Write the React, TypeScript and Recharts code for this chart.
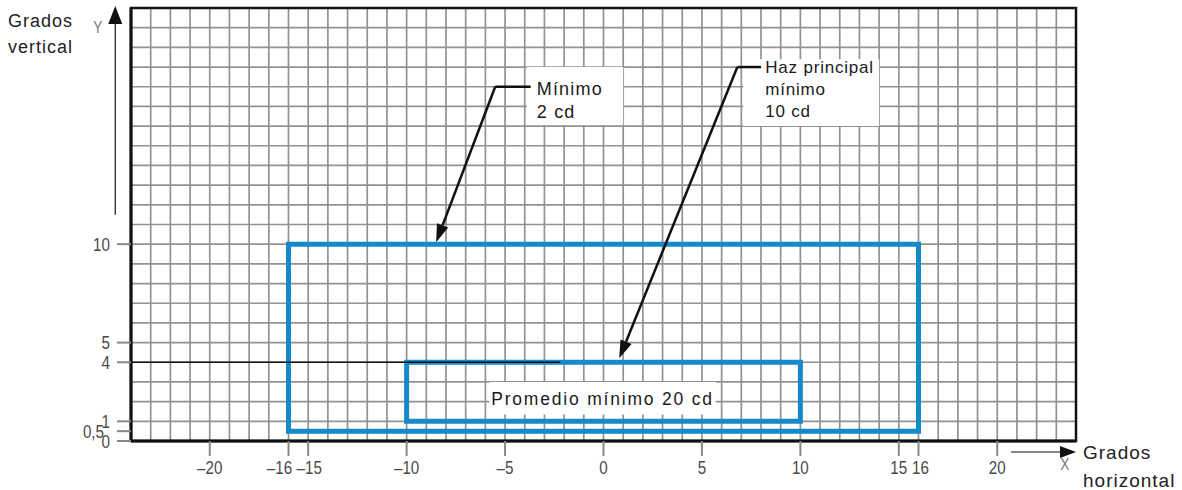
import {
  CartesianGrid,
  ComposedChart,
  ReferenceArea,
  ReferenceLine,
  XAxis,
  YAxis,
} from "recharts";

// axis ranges in degrees
const xDomain = [-24, 24];
const yDomain = [0, 22];
const xTicks = [-20, -16, -15, -10, -5, 0, 5, 10, 15, 16, 20];
const yTicks = [0, 0.5, 1, 4, 5, 10];
// one grid line per degree
const gridX = Array.from({ length: 49 }, (_, i) => i - 24);
const gridY = Array.from({ length: 23 }, (_, i) => i);

// light zones [x1, x2, y1, y2]
const zoneMinimo = [-16, 16, 0.5, 10];
const zonePrincipal = [-10, 10, 1, 4];

// callout texts
const noteMinimo = ["Mínimo", "2 cd"];
const noteHaz = ["Haz principal", "mínimo", "10 cd"];
const notePromedio = ["Promedio mínimo 20 cd"];

// leader lines, last point is the arrow tip
const leaderMinimo = [
  [-3.7, 18.0],
  [-5.5, 18.0],
  [-8.5, 10.1],
];
const leaderHaz = [
  [8.0, 19.0],
  [6.8, 19.0],
  [0.8, 4.2],
];

const BLUE = "#1589c9";
const FONT = "'Liberation Sans', Arial, sans-serif";

const fmtX = (v: number) => (v < 0 ? `–${-v}` : `${v}`);
const fmtY = (v: number) => `${v}`.replace(".", ",");

// crowded labels get nudged apart a little, as in the drawing
const xNudge: Record<number, number> = { [-16]: -9, [-15]: 1, [16]: 2 };
const yNudge: Record<number, number> = { [0.5]: -6 };

// condensed tick text (no narrow font installed, so squeeze it)
function NarrowTick(p: any) {
  const { x, y, payload, textAnchor, vertical } = p;
  const v = payload.value;
  const nx = x + (vertical ? yNudge[v] ?? 0 : xNudge[v] ?? 0);
  return (
    <text
      transform={`translate(${nx},${y}) scale(0.8,1)`}
      textAnchor={textAnchor}
      dy={vertical ? "0.355em" : "0.71em"}
      fill="#4a4a4a"
      fontSize={19}
      fontFamily={FONT}
    >
      {vertical ? fmtY(v) : fmtX(v)}
    </text>
  );
}

function Arrow(p: any) {
  const { x1, y1, x2, y2, stroke, strokeWidth, head = 16, half = 6 } = p;
  if (x1 == null) return null;
  const a = Math.atan2(y2 - y1, x2 - x1);
  const bx = x2 - head * Math.cos(a);
  const by = y2 - head * Math.sin(a);
  const px = half * Math.sin(a);
  const py = -half * Math.cos(a);
  return (
    <g>
      <line x1={x1} y1={y1} x2={bx} y2={by} stroke={stroke} strokeWidth={strokeWidth} />
      <polygon
        points={`${x2},${y2} ${bx + px},${by + py} ${bx - px},${by - py}`}
        fill={stroke}
      />
    </g>
  );
}

function BoxText(props: any) {
  const { viewBox, lines, size = 17, spacing = 0.8, padX, top, lineH = 21, center } = props;
  if (!viewBox) return null;
  const { x, y, width } = viewBox;
  const tx = center ? x + width / 2 : x + padX;
  return (
    <text
      x={tx}
      y={y + top}
      fill="#1a1a1a"
      fontSize={size}
      fontFamily={FONT}
      letterSpacing={spacing}
      textAnchor={center ? "middle" : "start"}
    >
      {lines.map((l: string, i: number) => (
        <tspan key={l} x={tx} dy={i === 0 ? 0 : lineH}>
          {l}
        </tspan>
      ))}
    </text>
  );
}

function leader(points: number[][], key: string) {
  return points.slice(1).map((pt, i) => {
    const prev = points[i];
    const last = i === points.length - 2;
    return (
      <ReferenceLine
        key={`${key}-${i}`}
        segment={[
          { x: prev[0], y: prev[1] },
          { x: pt[0], y: pt[1] },
        ]}
        stroke="#111"
        strokeWidth={2.5}
        ifOverflow="visible"
        shape={last ? (p: any) => <Arrow {...p} head={18} half={6} /> : undefined}
      />
    );
  });
}

export default function App() {
  return (
    <div
      style={{
        position: "fixed",
        left: 0,
        top: 0,
        width: 1182,
        height: 490,
        background: "#fff",
        fontFamily: FONT,
        overflow: "hidden",
      }}
    >
      <div style={{ position: "absolute", left: 8, top: 8, fontSize: 18, lineHeight: "26px", color: "#222", letterSpacing: 1 }}>
        Grados
        <br />
        vertical
      </div>
      <div style={{ position: "absolute", left: 92, top: 18, fontSize: 17, color: "#777", transform: "scaleX(0.8)" }}>Y</div>
      <div style={{ position: "absolute", left: 1059, top: 455, fontSize: 17, color: "#777", transform: "scaleX(0.8)" }}>X</div>
      <div style={{ position: "absolute", left: 1083, top: 439, fontSize: 19, lineHeight: "28px", color: "#222", letterSpacing: 1 }}>
        Grados
        <br />
        horizontal
      </div>

      <ComposedChart
        width={1182}
        height={490}
        margin={{ top: 8, right: 106, bottom: 0, left: 0 }}
        style={{ position: "absolute", left: 0, top: 0 }}
      >
        <CartesianGrid
          stroke="#929292"
          strokeWidth={1.7}
          horizontalValues={gridY}
          verticalValues={gridX}
        />
        <XAxis
          type="number"
          dataKey="x"
          domain={xDomain}
          ticks={xTicks}
          allowDataOverflow
          interval={0}
          height={49}
          tickSize={15}
          tickMargin={5}
          axisLine={{ stroke: "#111", strokeWidth: 3 }}
          tickLine={{ stroke: "#888", strokeWidth: 2 }}
          tick={(p: any) => <NarrowTick {...p} />}
        />
        <YAxis
          type="number"
          dataKey="y"
          domain={yDomain}
          ticks={yTicks}
          allowDataOverflow
          interval={0}
          width={131}
          tickSize={14}
          tickMargin={7}
          axisLine={{ stroke: "#111", strokeWidth: 3 }}
          tickLine={{ stroke: "#888", strokeWidth: 2 }}
          tick={(p: any) => <NarrowTick {...p} vertical />}
        />

        {/* plot frame */}
        <ReferenceArea
          x1={xDomain[0]}
          x2={xDomain[1]}
          y1={yDomain[0]}
          y2={yDomain[1]}
          fill="none"
          stroke="#111"
          strokeWidth={2.5}
        />

        <ReferenceLine
          segment={[
            { x: -24, y: 4 },
            { x: -2.2, y: 4 },
          ]}
          stroke="#111"
          strokeWidth={1.5}
        />

        <ReferenceArea
          x1={zoneMinimo[0]}
          x2={zoneMinimo[1]}
          y1={zoneMinimo[2]}
          y2={zoneMinimo[3]}
          fill="none"
          stroke={BLUE}
          strokeWidth={5}
          fillOpacity={0}
          strokeOpacity={1}
        />
        <ReferenceArea
          x1={zonePrincipal[0]}
          x2={zonePrincipal[1]}
          y1={zonePrincipal[2]}
          y2={zonePrincipal[3]}
          fill="none"
          stroke={BLUE}
          strokeWidth={5}
          fillOpacity={0}
          strokeOpacity={1}
        />

        {/* callout boxes */}
        <ReferenceArea
          x1={-5.8}
          x2={5.7}
          y1={1.35}
          y2={3.0}
          fill="#fff"
          fillOpacity={1}
          stroke="none"
          label={<BoxText lines={notePromedio} center top={23} size={17.5} spacing={1.8} />}
        />
        <ReferenceArea
          x1={-3.9}
          x2={1.0}
          y1={16.05}
          y2={19.0}
          fill="#fff"
          fillOpacity={1}
          stroke="none"
          label={<BoxText lines={noteMinimo} padX={10} top={28} size={18} spacing={1.2} lineH={23} />}
        />
        <ReferenceArea
          x1={7.1}
          x2={14.0}
          y1={16.0}
          y2={19.4}
          fill="#fff"
          fillOpacity={1}
          stroke="none"
          label={<BoxText lines={noteHaz} padX={22} top={14} size={17} spacing={0.8} lineH={22} />}
        />

        {leader(leaderMinimo, "min")}
        {leader(leaderHaz, "haz")}

        {/* axis direction arrows */}
        <ReferenceLine
          segment={[
            { x: -24.8, y: 11.5 },
            { x: -24.8, y: 22.1 },
          ]}
          stroke="#111"
          strokeWidth={1.2}
          ifOverflow="visible"
          shape={(p: any) => <Arrow {...p} head={18} half={7} />}
        />
        <ReferenceLine
          segment={[
            { x: 20.7, y: -0.56 },
            { x: 24.0, y: -0.56 },
          ]}
          stroke="#111"
          strokeWidth={1.2}
          ifOverflow="visible"
          shape={(p: any) => <Arrow {...p} head={16} half={6} />}
        />
      </ComposedChart>
    </div>
  );
}
